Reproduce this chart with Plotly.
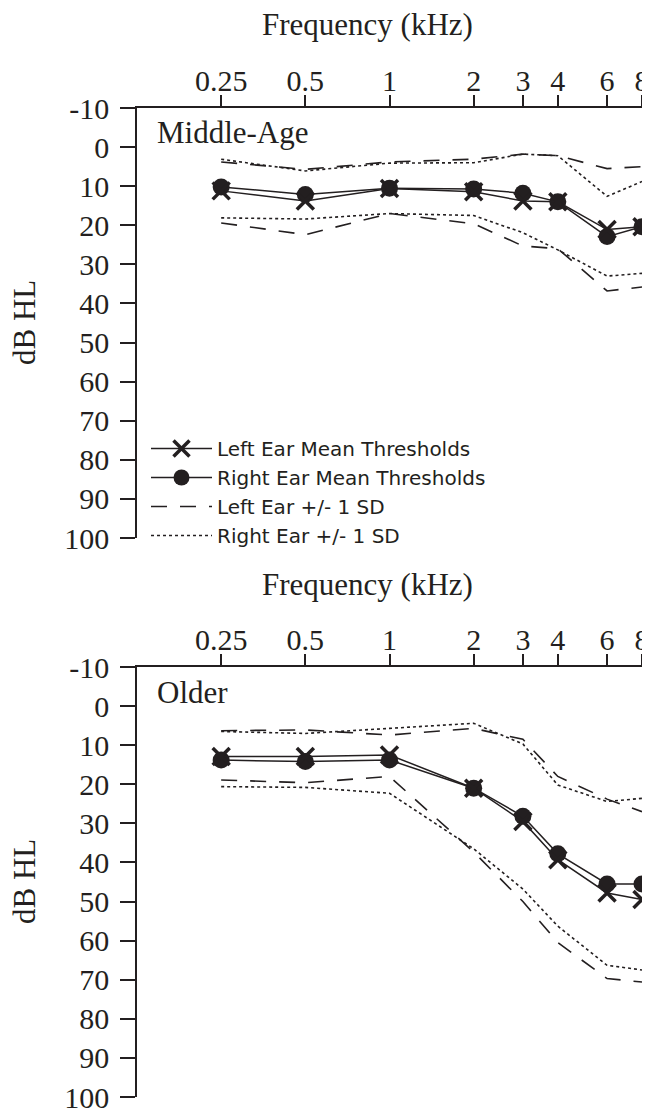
import math
import plotly.graph_objects as go

W, H = 650, 1109
OFF = 8  # page body margin in the browser

freqs = [0.25, 0.5, 1, 2, 3, 4, 6, 8]
freq_labels = ["0.25", "0.5", "1", "2", "3", "4", "6", "8"]
db_ticks = [-10, 0, 10, 20, 30, 40, 50, 60, 70, 80, 90, 100]
db_labels = ["-10", "0", "10", "20", "30", "40", "50", "60", "70", "80", "90", "100"]

# Middle-Age group
mid_left_mean = [11.2, 13.8, 10.6, 11.4, 13.8, 14.0, 21.1, 20.4]
mid_right_mean = [10.2, 12.1, 10.5, 10.7, 11.8, 14.0, 22.9, 20.4]
mid_left_sd_up = [3.8, 5.7, 3.8, 3.1, 1.8, 2.2, 5.5, 5.0]
mid_left_sd_dn = [19.4, 22.4, 17.0, 19.6, 25.3, 26.0, 36.8, 35.8]
mid_right_sd_up = [3.1, 6.1, 4.1, 4.0, 1.8, 2.2, 12.6, 8.8]
mid_right_sd_dn = [18.1, 18.4, 17.0, 17.5, 21.9, 26.3, 33.0, 32.3]

# Older group
old_left_mean = [12.9, 12.9, 12.5, 21.0, 29.5, 39.3, 47.8, 49.5]
old_right_mean = [13.8, 14.2, 13.8, 21.0, 28.2, 37.8, 45.5, 45.5]
old_left_sd_up = [6.3, 6.1, 7.4, 5.7, 8.5, 18.0, 23.8, 27.0]
old_left_sd_dn = [18.9, 19.6, 18.0, 37.3, 50.0, 60.5, 69.7, 70.6]
old_right_sd_up = [6.5, 7.0, 5.7, 4.4, 9.7, 20.2, 24.4, 23.6]
old_right_sd_dn = [20.6, 20.8, 22.3, 36.5, 46.8, 56.3, 66.3, 67.5]

legend_names = ["Left Ear Mean Thresholds", "Right Ear Mean Thresholds",
                "Left Ear +/- 1 SD", "Right Ear +/- 1 SD"]

SERIF = "Liberation Serif, Times New Roman, serif"
SANS = "DejaVu Sans, Verdana, sans-serif"
INK = "#231f20"

def px_x(p):
    return (p - OFF) / W

def px_y(p):
    return 1 - (p - OFF) / H

fig = go.Figure()

def add_panel(xa, ya, lmean, rmean, lup, ldn, rup, rdn, show):
    dash_l = dict(color=INK, width=1.6, dash="16px,13px")
    dash_r = dict(color=INK, width=1.6, dash="3px,3px")
    fig.add_trace(go.Scatter(x=freqs, y=lup, mode="lines", line=dash_l,
                             xaxis=xa, yaxis=ya, name=legend_names[2],
                             legendrank=3, showlegend=show, cliponaxis=False))
    fig.add_trace(go.Scatter(x=freqs, y=ldn, mode="lines", line=dash_l,
                             xaxis=xa, yaxis=ya, name=legend_names[2],
                             showlegend=False, cliponaxis=False))
    fig.add_trace(go.Scatter(x=freqs, y=rup, mode="lines", line=dash_r,
                             xaxis=xa, yaxis=ya, name=legend_names[3],
                             legendrank=4, showlegend=show, cliponaxis=False))
    fig.add_trace(go.Scatter(x=freqs, y=rdn, mode="lines", line=dash_r,
                             xaxis=xa, yaxis=ya, name=legend_names[3],
                             showlegend=False, cliponaxis=False))
    fig.add_trace(go.Scatter(x=freqs, y=rmean, mode="lines+markers",
                             line=dict(color=INK, width=1.5),
                             marker=dict(symbol="circle", size=17, color=INK),
                             xaxis=xa, yaxis=ya, name=legend_names[1],
                             legendrank=2, showlegend=show, cliponaxis=False))
    fig.add_trace(go.Scatter(x=freqs, y=lmean, mode="lines+markers",
                             line=dict(color=INK, width=1.5),
                             marker=dict(symbol="x-thin", size=17, color=INK,
                                         line=dict(color=INK, width=3.5)),
                             xaxis=xa, yaxis=ya, name=legend_names[0],
                             legendrank=1, showlegend=show, cliponaxis=False))

add_panel("x", "y", mid_left_mean, mid_right_mean, mid_left_sd_up,
          mid_left_sd_dn, mid_right_sd_up, mid_right_sd_dn, True)
add_panel("x2", "y2", old_left_mean, old_right_mean, old_left_sd_up,
          old_left_sd_dn, old_right_sd_up, old_right_sd_dn, False)

xdom = [px_x(137), px_x(642)]
xaxis_common = dict(
    type="log", range=[math.log10(0.125), math.log10(8)], domain=xdom,
    side="top", tickvals=freqs, ticktext=freq_labels, ticks="outside",
    ticklen=11, tickwidth=1.5, tickcolor=INK, showline=True, linewidth=1.5,
    linecolor=INK, showgrid=False, zeroline=False, automargin=False,
    ticklabelstandoff=-8,
    tickfont=dict(family=SERIF, size=30, color=INK),
)
yaxis_common = dict(
    range=[100, -10], tickvals=db_ticks, ticktext=db_labels, ticks="outside",
    ticklen=15, tickwidth=1.5, tickcolor=INK, showline=True, linewidth=1.5,
    linecolor=INK, showgrid=False, zeroline=False, ticklabelstandoff=5,
    automargin=False, tickfont=dict(family=SERIF, size=30, color=INK),
)

fig.update_layout(
    width=W, height=H,
    margin=dict(l=0, r=0, t=0, b=0, pad=0, autoexpand=False),
    paper_bgcolor="white", plot_bgcolor="white",
    xaxis=dict(xaxis_common, anchor="y"),
    yaxis=dict(yaxis_common, anchor="x", domain=[px_y(538), px_y(108)]),
    xaxis2=dict(xaxis_common, anchor="y2"),
    yaxis2=dict(yaxis_common, anchor="x2", domain=[px_y(1097), px_y(667)]),
    showlegend=True,
    legend=dict(x=px_x(146), y=px_y(429), xanchor="left", yanchor="top",
                bgcolor="rgba(0,0,0,0)", itemwidth=61, tracegroupgap=0,
                font=dict(family=SANS, size=20, color=INK),
                traceorder="normal"),
)

annots = [
    dict(text="Frequency (kHz)", x=px_x(367), y=px_y(25)),
    dict(text="Frequency (kHz)", x=px_x(367), y=px_y(584)),
    dict(text="dB HL", x=px_x(24), y=px_y(323), textangle=-90),
    dict(text="dB HL", x=px_x(24), y=px_y(882), textangle=-90),
]
for a in annots:
    fig.add_annotation(xref="paper", yref="paper", showarrow=False,
                       xanchor="center", yanchor="middle",
                       font=dict(family=SERIF, size=31, color=INK), **a)

fig.add_annotation(text="Middle-Age", xref="paper", yref="paper",
                   x=px_x(155), y=px_y(133), xanchor="left", yanchor="middle",
                   showarrow=False, font=dict(family=SERIF, size=31, color=INK))
fig.add_annotation(text="Older", xref="paper", yref="paper",
                   x=px_x(155), y=px_y(692), xanchor="left", yanchor="middle",
                   showarrow=False, font=dict(family=SERIF, size=31, color=INK))

fig.write_html("out.html")
